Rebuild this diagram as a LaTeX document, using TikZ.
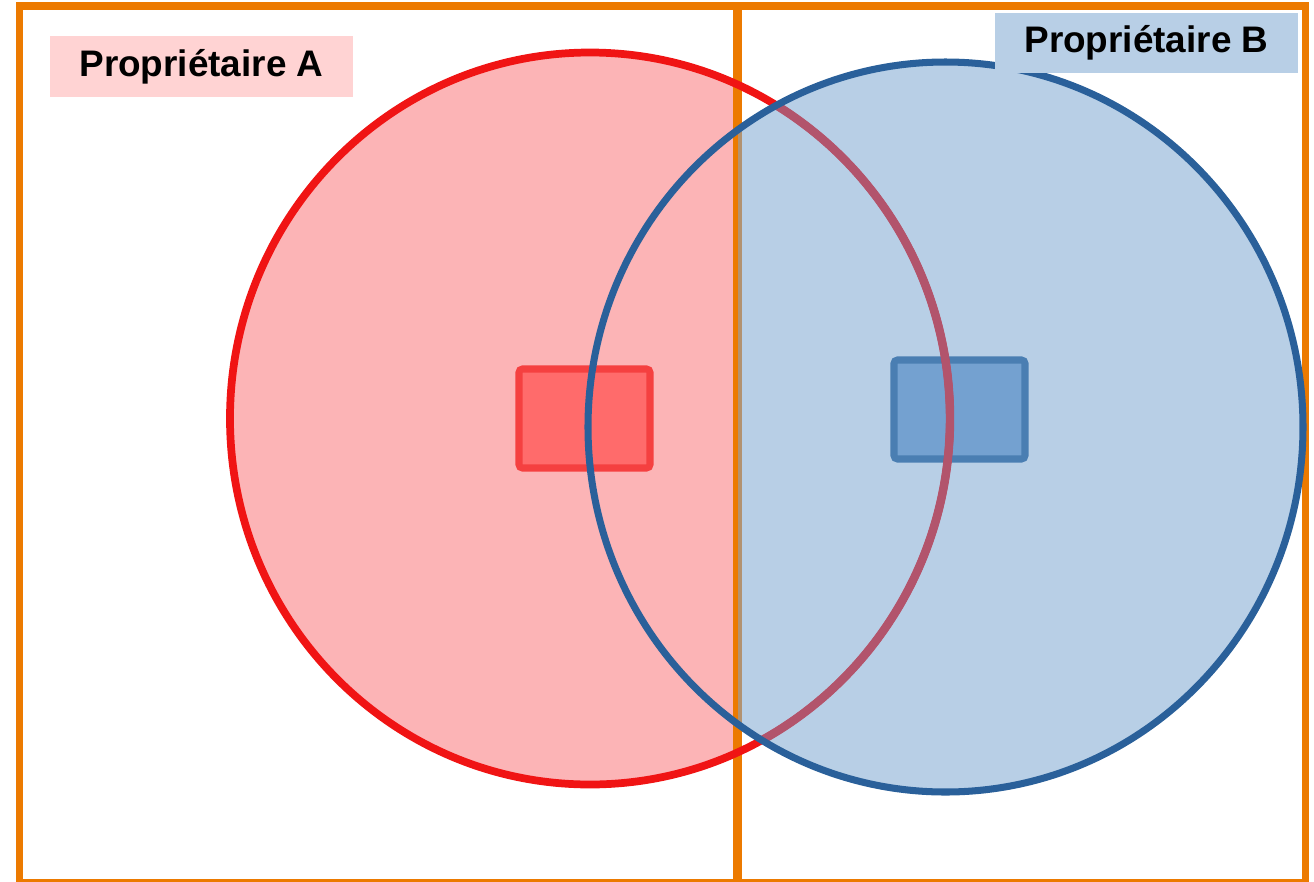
\documentclass[tikz,border=0pt]{standalone}
\usepackage{fontspec}
\setmainfont{Liberation Sans}
\usetikzlibrary{calc}

\definecolor{frameorange}{RGB}{236,122,0}
\definecolor{pinkfill}{RGB}{252,180,182}
\definecolor{redline}{RGB}{240,20,20}
\definecolor{mauveline}{RGB}{178,84,108}
\definecolor{bluefill}{RGB}{184,207,230}
\definecolor{blueline}{RGB}{42,96,154}
\definecolor{redrect}{RGB}{255,107,107}
\definecolor{redrectline}{RGB}{245,64,64}
\definecolor{bluerect}{RGB}{116,161,208}
\definecolor{bluerectline}{RGB}{74,126,178}
\definecolor{labelpink}{RGB}{255,211,211}
\definecolor{divtan}{RGB}{178,146,112}

\begin{document}
\begin{tikzpicture}[x=0.01cm, y=-0.01cm,
    owner/.style={minimum width=3.03cm, minimum height=0.6cm, inner sep=0pt,
                  font=\fontsize{10.5}{12}\selectfont\bfseries},
    lot/.style={line width=2pt, rounded corners=1pt}]
        \useasboundingbox (0,0) rectangle (1314,881);

        \coordinate (CA) at (590,418.5);
        \coordinate (CB) at (945.5,427);

        % fills, split at the boundary
        \begin{scope}
            \clip (0,0) rectangle (737.5,881);
            \fill[pinkfill] (CA) ellipse [x radius=360, y radius=366];
        \end{scope}
        \begin{scope}
            \clip (737.5,0) rectangle (1314,881);
            \fill[bluefill] (CB) ellipse [x radius=357.5, y radius=365];
        \end{scope}

        % buildings
        \draw[lot, draw=redrectline, fill=redrect] (519,369) rectangle (650,468);
        \draw[lot, draw=bluerectline, fill=bluerect] (894,360) rectangle (1025,459);

        % plots
        \draw[frameorange, line width=2pt] (19.5,6) rectangle (1305.5,883);
        \draw[frameorange, line width=2.6pt] (737.5,6) -- (737.5,883);
        \begin{scope}
            \clip (CB) ellipse [x radius=357.5, y radius=365];
            \fill[divtan] (737.5,0) rectangle (742,881);
        \end{scope}

        % outlines
        \draw[redline, line width=2.2pt] (CA) ellipse [x radius=360, y radius=366];
        \begin{scope}
            \clip (737.5,0) rectangle (1314,881);
            \clip (CB) ellipse [x radius=357.5, y radius=365];
            \draw[mauveline, line width=2.4pt] (CA) ellipse [x radius=360, y radius=366];
        \end{scope}
        \draw[blueline, line width=2pt] (CB) ellipse [x radius=357.5, y radius=365];

        \node[owner, fill=labelpink] (propA) at (201.5,66.5) {Propriétaire A};
        \node[owner, fill=bluefill] (propB) at (1146.5,43) {Propriétaire B};
    \end{tikzpicture}
\end{document}
